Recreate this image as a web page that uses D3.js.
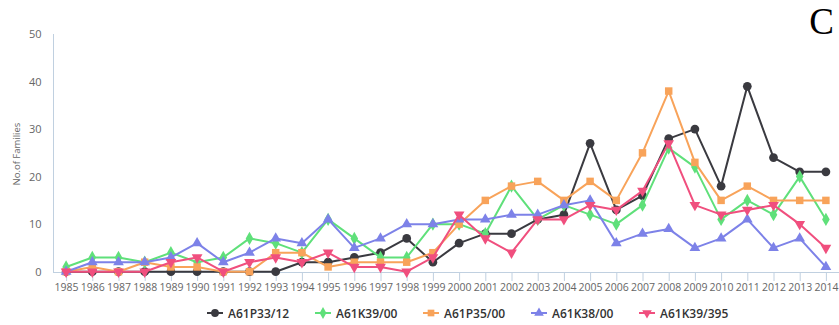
<!DOCTYPE html>
<html><head><meta charset="utf-8">
<script src="https://cdn.jsdelivr.net/npm/d3@7"></script>
<style>body{margin:0;background:#fff}svg{display:block}</style>
</head><body>
<svg id="c" width="839" height="325"></svg>
<script>
const years = d3.range(1985, 2015).map(String);
const yTicks = [0, 10, 20, 30, 40, 50];
const seriesNames = ["A61P33/12", "A61K39/00", "A61P35/00", "A61K38/00", "A61K39/395"];
const a61p33_12 = [0,0,0,0,0,0,0,0,0,2,2,3,4,7,2,6,8,8,11,12,27,13,16,28,30,18,39,24,21,21];
const a61k39_00 = [1,3,3,2,4,2,3,7,6,4,11,7,3,3,10,10,8,18,11,14,12,10,14,26,22,11,15,12,20,11];
const a61p35_00 = [0,1,0,2,1,1,0,0,4,4,1,2,2,2,4,10,15,18,19,15,19,15,25,38,23,15,18,15,15,15];
const a61k38_00 = [0,2,2,2,3,6,2,4,7,6,11,5,7,10,10,11,11,12,12,14,15,6,8,9,5,7,11,5,7,1];
const a61k39_395 = [0,0,0,0,2,3,0,2,3,2,4,1,1,0,3,12,7,4,11,11,14,13,17,27,14,12,13,14,10,5];
const seriesValues = [a61p33_12, a61k39_00, a61p35_00, a61k38_00, a61k39_395];
const colors = ["#3a3a40", "#5fe07a", "#f8a35a", "#7d82e8", "#f04f7e"];
const symbols = [d3.symbolCircle, d3.symbolDiamond, d3.symbolSquare, d3.symbolTriangle, d3.symbolTriangle];
const rotations = [0, 0, 0, 0, 180];
const symSizes = [60, 50, 56, 50, 50];

const svg = d3.select("#c");
const font = "'Open Sans', sans-serif";
const x = d3.scalePoint().domain(years).range([53, 839]).padding(0.5);
const y = d3.scaleLinear().domain([0, 50]).range([271.7, 34]);

// axis lines
const axisCol = "#c0d0e0";
const xa = svg.append("g").attr("transform", "translate(0,272)")
  .call(d3.axisBottom(x).tickSize(9).tickPadding(3));
xa.select(".domain").attr("stroke", axisCol).attr("d", "M53,0.5H839");
xa.selectAll(".tick line").attr("stroke", axisCol);
xa.selectAll(".tick text").attr("fill", "#666").attr("font-family", font).attr("font-size", "10.5px");

const ya = svg.append("g").attr("transform", "translate(53.5,0)")
  .call(d3.axisLeft(y).tickValues(yTicks).tickSize(0).tickPadding(12));
ya.select(".domain").attr("stroke", axisCol).attr("d", "M0,34V272");
ya.selectAll(".tick text").attr("fill", "#666").attr("font-family", font).attr("font-size", "11px");

svg.append("text").attr("transform", "translate(20,154) rotate(-90)")
  .attr("text-anchor", "middle").attr("fill", "#666").attr("font-family", font)
  .attr("font-size", "9.5px").text("No.of Families");

// series
const line = d3.line().x((d, i) => x(years[i])).y(d => y(d));
seriesValues.forEach((vals, s) => {
  const g = svg.append("g");
  g.append("path").attr("d", line(vals)).attr("fill", "none")
    .attr("stroke", colors[s]).attr("stroke-width", 2).attr("stroke-linejoin", "round");
  g.selectAll("path.m").data(vals).join("path").attr("class", "m")
    .attr("d", d3.symbol(symbols[s], symSizes[s]))
    .attr("transform", (d, i) => `translate(${x(years[i])},${y(d)}) rotate(${rotations[s]})`)
    .attr("fill", colors[s]);
});

// legend
const legX = [215, 323, 431, 539, 647];
seriesNames.forEach((n, s) => {
  const g = svg.append("g").attr("transform", `translate(${legX[s]},313)`);
  g.append("line").attr("x1", -8).attr("x2", 8).attr("stroke", colors[s]).attr("stroke-width", 2);
  g.append("path").attr("d", d3.symbol(symbols[s], symSizes[s] * 0.8))
    .attr("transform", `rotate(${rotations[s]})`).attr("fill", colors[s]);
  g.append("text").attr("x", 13).attr("y", 4.5).attr("fill", "#333").attr("font-family", font)
    .attr("font-size", "12px").attr("font-weight", 600).text(n);
});

svg.append("text").attr("x", 834).attr("y", 34).attr("text-anchor", "end")
  .attr("font-family", "'Liberation Serif', serif").attr("font-size", "37px").attr("fill", "#000").text("C");
</script>
</body></html>
